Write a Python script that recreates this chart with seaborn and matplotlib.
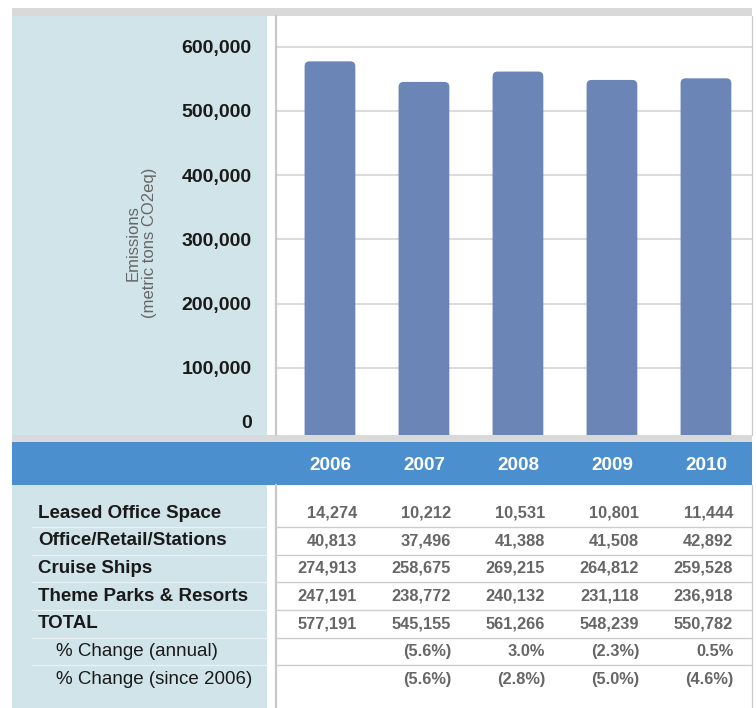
import pandas as pd
import numpy as np
import seaborn as sns
import matplotlib.pyplot as plt
from matplotlib.patches import Rectangle, FancyBboxPatch
from matplotlib.lines import Line2D
from matplotlib.transforms import blended_transform_factory

# Data
years = ['2006', '2007', '2008', '2009', '2010']
leased_office = [14274, 10212, 10531, 10801, 11444]
office_retail = [40813, 37496, 41388, 41508, 42892]
cruise_ships = [274913, 258675, 269215, 264812, 259528]
theme_parks = [247191, 238772, 240132, 231118, 236918]
total = [577191, 545155, 561266, 548239, 550782]
pct_annual = ['', '(5.6%)', '3.0%', '(2.3%)', '0.5%']
pct_since = ['', '(5.6%)', '(2.8%)', '(5.0%)', '(4.6%)']

row_labels = ['Leased Office Space', 'Office/Retail/Stations', 'Cruise Ships',
              'Theme Parks & Resorts', 'TOTAL',
              '% Change (annual)', '% Change (since 2006)']
y_ticks = [0, 100000, 200000, 300000, 400000, 500000, 600000]

df = pd.DataFrame({'year': years, 'total': total})

# Colours
BAR = '#6b86b6'
PANEL = '#d0e4ea'
BAND = '#4b8fcf'
STRIP = '#d9d9d9'
GRID = '#d4d4d4'

sns.set_style('white')
plt.rcParams['font.family'] = ['Liberation Sans', 'DejaVu Sans']

W, H = 756, 708
fig = plt.figure(figsize=(W / 100, H / 100), dpi=100)


def px_rect(x0, y0, x1, y1, color, z):
    fig.patches.append(Rectangle((x0 / W, 1 - y1 / H), (x1 - x0) / W, (y1 - y0) / H,
                                 transform=fig.transFigure, facecolor=color,
                                 edgecolor='none', zorder=z))


# Background panels
px_rect(12, 16, 267, 708, PANEL, -10)
px_rect(12, 8, 752, 16, STRIP, -9)
px_rect(12, 435, 752, 442, STRIP, -9)
px_rect(12, 442, 752, 485, BAND, -9)

# Bar chart
ax = fig.add_axes([276 / W, 1 - 435 / H, 476 / W, (435 - 16) / H])
sns.barplot(data=df, x='year', y='total', color=BAR, width=0.54,
            saturation=1, ax=ax, zorder=3)
ax.set_xlim(-0.574, 4.49)
ax.set_ylim(-4670, 647800)
ax.set_yticks(y_ticks)
ax.set_yticklabels([f'{v:,}' for v in y_ticks])
ax.yaxis.grid(True, color=GRID, linewidth=1.2, zorder=0)
ax.set_axisbelow(True)
ax.tick_params(axis='y', length=6.5, width=1.2, color=GRID, pad=11,
               labelsize=14, labelcolor='#1a1a1a')
ax.tick_params(axis='x', length=0, pad=15.5, labelsize=13.6, labelcolor='white')
for lab in ax.get_yticklabels():
    lab.set_fontweight('bold')
    if lab.get_text() == '0':
        lab.set_va('bottom')
for lab in ax.get_xticklabels():
    lab.set_fontweight('bold')
# no gridline / tick at zero
zero_tick = ax.yaxis.get_major_ticks()[0]
zero_tick.gridline.set_visible(False)
zero_tick.tick1line.set_visible(False)

ax.set_xlabel('')
ax.set_ylabel('Emissions\n(metric tons CO2eq)', fontsize=12, color='#666666',
              linespacing=1.15)
ax.yaxis.set_label_coords(-0.25, 0.458)
for s in ['top', 'bottom']:
    ax.spines[s].set_visible(False)
ax.spines['left'].set_color('#c8c8c8')
ax.spines['left'].set_linewidth(1.6)
ax.spines['right'].set_color('#c8c8c8')
ax.spines['right'].set_linewidth(0.9)

# Rounded bar tops
fig.canvas.draw()
x_px = ax.transData.transform((1, 0))[0] - ax.transData.transform((0, 0))[0]
y_px = ax.transData.transform((0, 100000))[1] - ax.transData.transform((0, 0))[1]
aspect = (100000 / y_px) / (1 / x_px)
r = 5 / x_px
for p in list(ax.patches):
    x0, w, h = p.get_x(), p.get_width(), p.get_height()
    p.remove()
    ax.add_patch(FancyBboxPatch((x0, -60000), w, h + 60000,
                                boxstyle=f'round,pad=0,rounding_size={r}',
                                mutation_aspect=aspect, facecolor=BAR,
                                edgecolor='none', zorder=3))

# Table
axt = fig.add_axes([276 / W, 0, 476 / W, (708 - 485) / H])
axt.set_xlim(ax.get_xlim())
axt.set_ylim(7.047, -1.012)
axt.set_xticks([])
axt.set_yticks([])
for s in ['top', 'bottom']:
    axt.spines[s].set_visible(False)
axt.spines['left'].set_color('#c8c8c8')
axt.spines['left'].set_linewidth(1.6)
axt.spines['right'].set_color('#c8c8c8')
axt.spines['right'].set_linewidth(0.9)

rows = [
    [f'{v:,}' for v in leased_office],
    [f'{v:,}' for v in office_retail],
    [f'{v:,}' for v in cruise_ships],
    [f'{v:,}' for v in theme_parks],
    [f'{v:,}' for v in total],
    pct_annual,
    pct_since,
]
for i, row in enumerate(rows):
    for j, val in enumerate(row):
        axt.text(j + 0.29, i, val, ha='right', va='center', fontsize=11.8,
                 fontweight='bold', color='#666666')

for i in range(len(rows) - 1):
    axt.axhline(i + 0.5, color='#cccccc', linewidth=1.0)

trans = blended_transform_factory(fig.transFigure, axt.transData)
for i, label in enumerate(row_labels):
    if label.startswith('%'):
        axt.text(56 / W, i, label, transform=trans, ha='left', va='center',
                 fontsize=13.5, color='#1a1a1a', clip_on=False)
    else:
        axt.text(38 / W, i, label, transform=trans, ha='left', va='center',
                 fontsize=13.5, fontweight='bold', color='#1a1a1a', clip_on=False)
for i in range(len(rows) - 1):
    axt.add_line(Line2D([32 / W, 267 / W], [i + 0.5, i + 0.5], transform=trans,
                        color='#e9f2f5', linewidth=1.0, clip_on=False))

plt.savefig('out.png', dpi=100)
